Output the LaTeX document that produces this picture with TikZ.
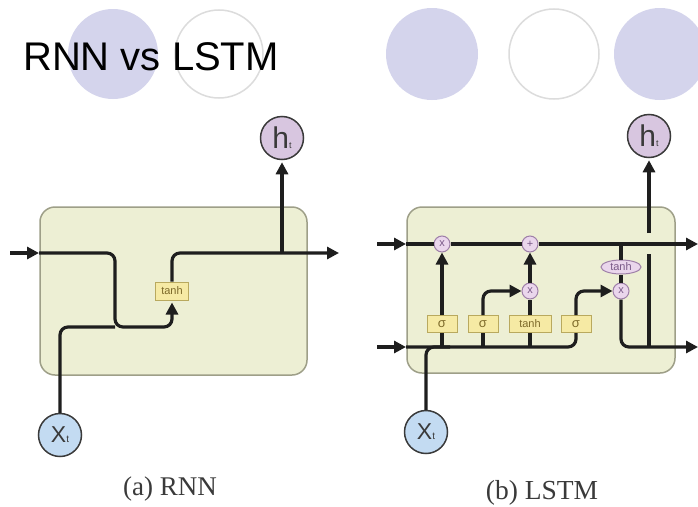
\documentclass[tikz,border=0pt]{standalone}
\usepackage{fontspec}
\setmainfont{Liberation Serif}
\newfontfamily\sansf{Liberation Sans}
\usetikzlibrary{arrows.meta,shapes.geometric}
\definecolor{wirec}{HTML}{1E1E1E}
\definecolor{decofill}{HTML}{D4D4EC}
\definecolor{decoline}{HTML}{DCDCDC}
\definecolor{boxfill}{HTML}{EDEFD4}
\definecolor{boxborder}{HTML}{9E9F88}
\definecolor{gatefill}{HTML}{F6EAA4}
\definecolor{gateborder}{HTML}{B9A95E}
\definecolor{gatetext}{HTML}{7D6A2A}
\definecolor{opfill}{HTML}{EAD6EC}
\definecolor{opborder}{HTML}{9E7FA8}
\definecolor{optext}{HTML}{7A5A88}
\definecolor{hfill}{HTML}{D8C6E0}
\definecolor{xfill}{HTML}{C3DBF2}
\definecolor{darkc}{HTML}{3A3A3A}
\tikzset{
  wire/.style={line width=3.2pt, draw=wirec},
  arr/.style={wire, -{Triangle[length=12pt,width=12pt]}},
  cellbox/.style={draw=boxborder, fill=boxfill, line width=1.5pt, rounded corners=15pt, inner sep=0pt},
  gate/.style={draw=gateborder, fill=gatefill, line width=1pt, minimum width=30pt, minimum height=17pt, inner sep=0pt, font=\sansf\fontsize{13}{13}\selectfont, text=gatetext},
  op/.style={circle, draw=opborder, fill=opfill, line width=1pt, minimum size=16pt, inner sep=0pt, font=\sansf\fontsize{11}{11}\selectfont, text=optext},
  tanhop/.style={ellipse, draw=opborder, fill=opfill, line width=1pt, minimum width=40pt, minimum height=14pt, inner sep=0pt, font=\sansf\fontsize{11}{11}\selectfont, text=optext},
  hnode/.style={circle, draw=darkc, fill=hfill, line width=1.5pt, minimum size=43pt, inner sep=0pt, text=darkc},
  xnode/.style={circle, draw=darkc, fill=xfill, line width=1.5pt, minimum size=43pt, inner sep=0pt, text=darkc},
  deco/.style={fill=decofill},
  decoring/.style={draw=decoline, line width=1.5pt},
}
\newcommand{\htext}{{\sansf\fontsize{30}{30}\selectfont h}{\sansf\fontsize{9}{9}\selectfont t}}
\newcommand{\xtext}{{\sansf\fontsize{23}{23}\selectfont X}{\sansf\fontsize{10}{10}\selectfont t}}
\begin{document}
\begin{tikzpicture}[x=1pt,y=-1pt]
\path[use as bounding box] (0,0) rectangle (698,506);
\fill[white] (0,0) rectangle (698,506);
% decorative circles
\fill[deco] (113,54) circle[radius=45pt];
\draw[decoring] (219,54) circle[radius=44pt];
\fill[deco] (432,54) circle[radius=46pt];
\draw[decoring] (554,54) circle[radius=45pt];
\fill[deco] (660,54) circle[radius=46pt];
\node[anchor=base west, inner sep=0pt, font=\sansf\fontsize{40}{40}\selectfont] (title) at (23,70) {RNN vs LSTM};

% ---------- RNN ----------
\node[cellbox, minimum width=267pt, minimum height=168pt] (rbox) at (173.5,291) {};
\node[gate, minimum width=33pt, minimum height=18pt, font=\sansf\fontsize{11}{11}\selectfont] (rtanh) at (172,291) {tanh};
\node[hnode] (rh) at (282,138) {\htext};
\node[xnode] (rx) at (60,435) {\xtext};
\coordinate (rinA) at (10,253);
\coordinate (rinB) at (39,253);
\coordinate (rmerge) at (115,327);
\coordinate (rout) at (339,253);
\coordinate (rsplit) at (282,253);
\draw[arr] (rinA) -- (rinB);
\draw[wire, rounded corners=8pt] (rx.north) |- (rmerge);
\draw[arr, rounded corners=8pt, shorten >=2pt] (rinB) -| (rmerge) -| (rtanh.south);
\draw[arr, rounded corners=8pt] (rtanh.north) |- (rout);
\draw[arr, shorten >=2pt] (rsplit) -- (rh.south);

% ---------- LSTM ----------
\node[cellbox, minimum width=268pt, minimum height=166pt] (lbox) at (541,290) {};
\node[op] (lx1) at (442,244) {x};
\node[op] (lplus) at (530,244) {+};
\node[op] (lx2) at (530,291) {x};
\node[op] (lx3) at (621,291) {x};
\node[tanhop] (lte) at (621,267) {tanh};
\node[gate] (ls1) at (442,324) {σ};
\node[gate] (ls2) at (483,324) {σ};
\node[gate, minimum width=42pt, font=\sansf\fontsize{11}{11}\selectfont] (ltb) at (530,324) {tanh};
\node[gate] (ls4) at (576,324) {σ};
\node[hnode] (lh) at (649,136) {\htext};
\node[xnode] (lx) at (426,432) {\xtext};
\coordinate (lA1) at (377,244);
\coordinate (lA1t) at (406,244);
\coordinate (lA2) at (377,347);
\coordinate (lA2t) at (406,347);
\coordinate (lout1) at (698,244);
\coordinate (lout2) at (698,347);
\coordinate (lxj) at (450,347);
\coordinate (lb1) at (442,347);
\coordinate (lb2) at (483,347);
\coordinate (lb3) at (530,347);
\coordinate (lc) at (621,244);
\coordinate (lh1) at (649,233);
\coordinate (lh2) at (649,254);
\coordinate (lh3) at (649,347);
\draw[arr] (lA1) -- (lA1t);
\draw[arr] (lA2) -- (lA2t);
\draw[wire] (lA1t) -- (lx1.west);
\draw[wire] (lx1.east) -- (lplus.west);
\draw[arr] (lplus.east) -- (lout1);
\draw[wire, rounded corners=8pt] (lA2t) -| (ls4.south);
\draw[wire, rounded corners=8pt] (lx.north) |- (lxj);
\draw[wire] (lb1) -- (ls1.south);
\draw[arr] (ls1.north) -- (lx1.south);
\draw[wire] (lb2) -- (ls2.south);
\draw[arr, rounded corners=8pt] (ls2.north) |- (lx2.west);
\draw[wire] (lb3) -- (ltb.south);
\draw[wire] (ltb.north) -- (lx2.south);
\draw[arr] (lx2.north) -- (lplus.south);
\draw[arr, rounded corners=8pt] (ls4.north) |- (lx3.west);
\draw[wire] (lc) -- (lte.north);
\draw[wire] (lte.south) -- (lx3.north);
\draw[arr, rounded corners=8pt] (lx3.south) |- (lout2);
\draw[arr, shorten >=2pt] (lh1) -- (lh.south);
\draw[wire] (lh2) -- (lh3);

% captions
\node[anchor=base, inner sep=0pt, text=darkc, font=\fontsize{27}{27}\selectfont] (capa) at (170,495) {(a) RNN};
\node[anchor=base, inner sep=0pt, text=darkc, font=\fontsize{27.5}{27.5}\selectfont] (capb) at (542,499) {(b) LSTM};
\end{tikzpicture}
\end{document}
